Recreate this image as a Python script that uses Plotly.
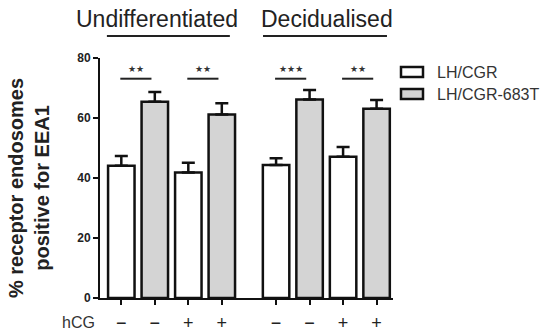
import plotly.graph_objects as go

# ---- data -------------------------------------------------------------
groups = ["Undifferentiated", "Decidualised"]
hcg_labels = ["−", "+"]                      # hCG treatment per pair
series_names = ["LH/CGR", "LH/CGR-683T"]
series_colors = ["#ffffff", "#d4d4d4"]

# values ordered: (Undiff, −), (Undiff, +), (Decid, −), (Decid, +)
lhcgr_mean = [44.1, 41.8, 44.3, 47.1]
lhcgr_sem = [3.2, 3.3, 2.3, 3.2]
mut_mean = [65.4, 61.2, 66.2, 63.1]
mut_sem = [3.3, 3.7, 3.1, 2.9]

significance = ["**", "**", "***", "**"]
y_ticks = [0, 20, 40, 60, 80]
y_title = "% receptor endosomes<br>positive for EEA1"

# ---- layout helpers ----------------------------------------------------
GROUP_STEP = 4.62
X_RANGE = [-0.636, 8.11]
L, R, T, B = 100, 147, 58, 38
W, H = 540, 336
PW, PH = W - L - R, H - T - B
FONT = "Liberation Sans, Arial"


def bar_pos(g, h, s):
    return g * GROUP_STEP + h * 2 + s


def px_to_paper_x(px):
    return (px - L) / PW


def px_to_paper_y(py):
    return (H - B - py) / PH


def data_to_paper_x(x):
    return (x - X_RANGE[0]) / (X_RANGE[1] - X_RANGE[0])


means = [lhcgr_mean, mut_mean]
sems = [lhcgr_sem, mut_sem]

fig = go.Figure()
for s, name in enumerate(series_names):
    xs = [bar_pos(g, h, s) for g in range(len(groups)) for h in range(len(hcg_labels))]
    fig.add_trace(go.Bar(
        x=xs, y=means[s], name=name, width=0.79,
        marker=dict(color=series_colors[s], line=dict(color="#111111", width=2.5)),
        error_y=dict(type="data", array=sems[s], arrayminus=[0] * len(sems[s]),
                     symmetric=False, thickness=2.5, width=6.5, color="#111111"),
        showlegend=False,
    ))

tick_vals, tick_text = [], []
for g in range(len(groups)):
    for h in range(len(hcg_labels)):
        for s in range(len(series_names)):
            tick_vals.append(bar_pos(g, h, s))
            tick_text.append(hcg_labels[h])

shapes, annotations = [], []

# significance brackets
k = 0
for g in range(len(groups)):
    for h in range(len(hcg_labels)):
        a, b = bar_pos(g, h, 0), bar_pos(g, h, 1)
        shapes.append(dict(type="line", xref="x", yref="y", x0=a - 0.03, x1=b - 0.1,
                           y0=73.1, y1=73.1, line=dict(color="#222", width=2)))
        annotations.append(dict(x=(a + b - 0.13) / 2, y=76.4, xref="x", yref="y",
                                text="★" * len(significance[k]), showarrow=False,
                                font=dict(family="DejaVu Sans", size=9, color="#333")))
        k += 1

# group headings with underlines
title_offsets = [-0.44, 0.02]
line_spans = [(-0.43, 3.24), (-0.39, 3.31)]
for g, label in enumerate(groups):
    first = bar_pos(g, 0, 0)
    centre = first + 1.5 + title_offsets[g]
    annotations.append(dict(x=data_to_paper_x(centre), y=px_to_paper_y(19),
                            xref="paper", yref="paper", text=label, showarrow=False,
                            xanchor="center", yanchor="middle",
                            font=dict(family=FONT, size=23, color="#222")))
    x0, x1 = line_spans[g]
    shapes.append(dict(type="line", xref="paper", yref="paper",
                       x0=data_to_paper_x(first + x0), x1=data_to_paper_x(first + x1),
                       y0=px_to_paper_y(36), y1=px_to_paper_y(36),
                       line=dict(color="#222", width=2)))

# legend
legend_rows = [72, 94]
for s, name in enumerate(series_names):
    yc = legend_rows[s]
    shapes.append(dict(type="rect", xref="paper", yref="paper",
                       x0=px_to_paper_x(401), x1=px_to_paper_x(423),
                       y0=px_to_paper_y(yc - 5), y1=px_to_paper_y(yc + 5),
                       fillcolor=series_colors[s], line=dict(color="#111", width=2.5)))
    annotations.append(dict(x=px_to_paper_x(435), y=px_to_paper_y(yc), xref="paper", yref="paper",
                            text=name, showarrow=False, xanchor="left", yanchor="middle",
                            font=dict(family=FONT, size=16, color="#333")))

# hCG row label
annotations.append(dict(x=px_to_paper_x(97), y=px_to_paper_y(322), xref="paper", yref="paper",
                        text="hCG", showarrow=False, xanchor="right", yanchor="middle",
                        font=dict(family=FONT, size=16, color="#333")))

# y-axis title
annotations.append(dict(x=px_to_paper_x(29), y=px_to_paper_y(188), xref="paper", yref="paper",
                        text="<b>" + y_title.replace("<br>", "</b><br><b>") + "</b>",
                        showarrow=False, textangle=-90, xanchor="center", yanchor="middle",
                        font=dict(family=FONT, size=20, color="#222")))

fig.update_layout(
    width=W, height=H, margin=dict(l=L, r=R, t=T, b=B, pad=0, autoexpand=False),
    paper_bgcolor="white", plot_bgcolor="white",
    barmode="overlay", showlegend=False,
    shapes=shapes, annotations=annotations,
    xaxis=dict(range=X_RANGE, tickvals=tick_vals, ticktext=tick_text, automargin=False,
               showline=True, linecolor="#111", linewidth=2, ticks="outside",
               ticklen=5, tickwidth=2, tickcolor="#111", showgrid=False, zeroline=False,
               ticklabelstandoff=2,
               tickfont=dict(family=FONT, size=18, color="#222")),
    yaxis=dict(range=[0, 80], tickvals=y_ticks, showline=True, linecolor="#111", linewidth=2,
               ticks="outside", ticklen=5, tickwidth=2, tickcolor="#111", automargin=False,
               showgrid=False, zeroline=False,
               tickfont=dict(family=FONT, size=12, color="#222", weight="bold")),
)

fig.write_html("out.html")
